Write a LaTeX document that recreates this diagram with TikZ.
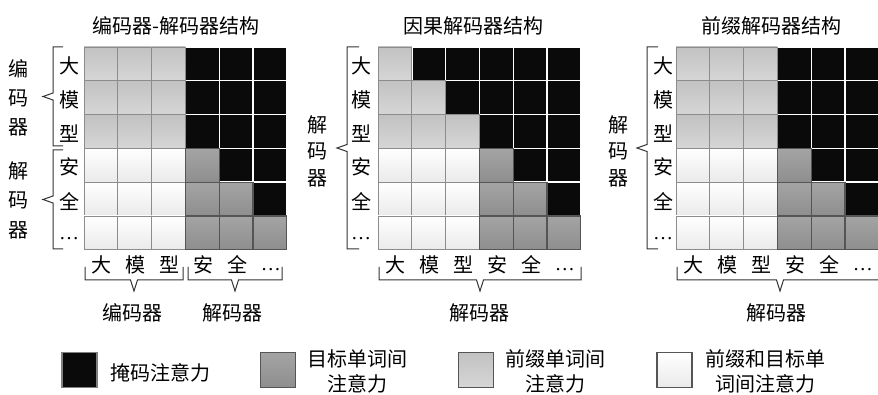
\documentclass[tikz,border=0pt]{standalone}
\usepackage{fontspec}
\newfontfamily\cjk{Noto Sans CJK SC}
\newfontfamily\latf{Liberation Serif}
\definecolor{lgT}{HTML}{C2C2C2}
\definecolor{lgB}{HTML}{D6D6D6}
\definecolor{lgD}{HTML}{8C8C8C}
\definecolor{whT}{HTML}{FFFFFF}
\definecolor{whB}{HTML}{EAEAEA}
\definecolor{dgT}{HTML}{A4A4A4}
\definecolor{dgB}{HTML}{8E8E8E}
\definecolor{dgD}{HTML}{555555}
\definecolor{blk}{HTML}{0A0A0A}
\definecolor{brkc}{HTML}{333333}
\tikzset{
  cellL/.style={top color=lgT, bottom color=lgB, draw=lgD, line width=0.9pt},
  cellW/.style={top color=whT, bottom color=whB, draw=lgD, line width=0.9pt},
  cellD/.style={top color=dgT, bottom color=dgB, draw=dgD, line width=1.1pt},
  cellB/.style={fill=blk},
  lab/.style={font=\cjk\fontsize{20}{24}\selectfont, inner sep=0pt},
  dots/.style={font=\latf\fontsize{20}{24}\selectfont, inner sep=0pt},
  brk/.style={draw=brkc, line width=1pt},
  legsq/.style={minimum size=35pt, inner sep=0pt, line width=1.2pt},
  legtxt/.style={lab, align=center, font=\cjk\fontsize{20}{25}\selectfont},
}
\def\cw{33.8}
\newcommand\drawcell[4]{%
  \ifx#1B%
    \path[cellB] ({#2+#3*\cw+0.7},{47+#4*\cw+0.7}) rectangle ({#2+(#3+1)*\cw-0.7},{47+(#4+1)*\cw-0.7});%
  \else
    \path[cell#1] ({#2+#3*\cw},{47+#4*\cw}) rectangle ++(\cw,\cw);%
  \fi}
\newcommand\mygrid[2]{%
  \foreach \rowl [count=\rr from 0] in {#2} {%
    \foreach \t [count=\cc from 0] in \rowl {%
      \expandafter\drawcell\t{#1}{\cc}{\rr}%
    }%
  }}
\newcommand\mylbr[4]{%
  \draw[brk] ({#1+#4},#2) -- (#1,#2) -- (#1,{(#2+#3)/2-3.5}) -- ({#1-10},{(#2+#3)/2}) -- (#1,{(#2+#3)/2+3.5}) -- (#1,#3) -- ({#1+#4},#3);}
\newcommand\mybbr[2]{%
  \draw[brk] (#1,267) -- (#1,280) -- ({(#1+#2)/2-3.5},280) -- ({(#1+#2)/2},291) -- ({(#1+#2)/2+3.5},280) -- (#2,280) -- (#2,267);}
\begin{document}
\begin{tikzpicture}[x=1pt,y=-1pt]
\useasboundingbox (0,0) rectangle (878,395);
% grids
\mygrid{84}{{L,L,L,B,B,B},{L,L,L,B,B,B},{L,L,L,B,B,B},{W,W,W,D,B,B},{W,W,W,D,D,B},{W,W,W,D,D,D}}
\mygrid{378}{{L,B,B,B,B,B},{L,L,B,B,B,B},{L,L,L,B,B,B},{W,W,W,D,B,B},{W,W,W,D,D,B},{W,W,W,D,D,D}}
\mygrid{676}{{L,L,L,B,B,B},{L,L,L,B,B,B},{L,L,L,B,B,B},{W,W,W,D,B,B},{W,W,W,D,D,B},{W,W,W,D,D,D}}
% titles
\node[lab] (t1) at (176,26) {编码器-解码器结构};
\node[lab] (t2) at (473,26) {因果解码器结构};
\node[lab] (t3) at (771,26) {前缀解码器结构};
% row and column labels
\foreach \xr/\xo/\p in {69/84/a,361/378/b,663/676/c}{%
  \foreach \ch [count=\i from 0] in {大,模,型,安,全}{%
    \node[lab] (\p r\i) at (\xr,{47+(\i+0.5)*\cw+2}) {\ch};
    \node[lab] (\p c\i) at ({\xo+(\i+0.5)*\cw+1},265) {\ch};
  }
  \node[dots] (\p r5) at (\xr,239) {…};
  \node[dots] (\p c5) at ({\xo+5.5*\cw+1},270) {…};
}
% left side labels
\node[lab, align=center, font=\cjk\fontsize{20}{29}\selectfont] (enc1) at (19,98) {编\\码\\器};
\node[lab, align=center, font=\cjk\fontsize{20}{29.5}\selectfont] (dec1) at (19,200) {解\\码\\器};
\node[lab, align=center, font=\cjk\fontsize{20}{26.5}\selectfont] (dec2) at (317,151) {解\\码\\器};
\node[lab, align=center, font=\cjk\fontsize{20}{26.5}\selectfont] (dec3) at (618,151) {解\\码\\器};
% brackets
\mylbr{53}{47}{146}{10}
\mylbr{53}{150}{249}{10}
\mylbr{347}{47}{249}{12}
\mylbr{647}{47}{249}{11}
\mybbr{85}{183}
\mybbr{188}{282}
\mybbr{379}{581}
\mybbr{677}{883}
% bottom labels
\node[lab] (be1) at (132.5,313) {编码器};
\node[lab] (bd1) at (232.5,313) {解码器};
\node[lab] (bd2) at (479,313) {解码器};
\node[lab] (bd3) at (776,313) {解码器};
% legend
\node[legsq, fill=blk, draw=gray] (k1) at (79.5,370) {};
\node[lab] (k1t) at (160.5,372.5) {掩码注意力};
\node[legsq, top color=dgT, bottom color=dgB, draw=dgD] (k2) at (278,370) {};
\node[legtxt] (k2t) at (357,371.5) {目标单词间\\注意力};
\node[legsq, top color=lgT, bottom color=lgB, draw=dgD] (k3) at (476,370) {};
\node[legtxt] (k3t) at (555,371.5) {前缀单词间\\注意力};
\node[legsq, top color=whT, bottom color=whB, draw=dgD] (k4) at (674.5,370) {};
\node[legtxt] (k4t) at (765,371.5) {前缀和目标单\\词间注意力};
\end{tikzpicture}
\end{document}
